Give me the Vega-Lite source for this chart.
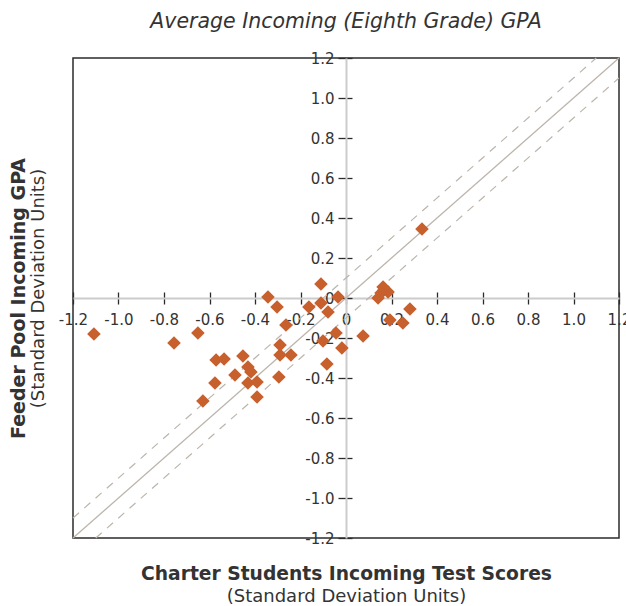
{
  "$schema": "https://vega.github.io/schema/vega-lite/v6.json",
  "width": 546,
  "height": 480,
  "autosize": "none",
  "padding": {"left": 73, "top": 58, "right": 7, "bottom": 68},
  "background": "white",
  "config": {
    "view": {"stroke": "#2b2b2b", "strokeWidth": 1.5},
    "font": "DejaVu Sans"
  },
  "title": {
    "text": "Average Incoming (Eighth Grade) GPA",
    "font": "DejaVu Sans",
    "fontSize": 20.5,
    "fontStyle": "italic",
    "fontWeight": "normal",
    "color": "#333333",
    "anchor": "middle",
    "frame": "group",
    "baseline": "alphabetic",
    "offset": 3
  },
  "datasets": {
    "ref": [
      {"x": -1.2, "y": -1.1, "series": "upper"},
      {"x": 1.1, "y": 1.2, "series": "upper"},
      {"x": -1.1, "y": -1.2, "series": "lower"},
      {"x": 1.2, "y": 1.1, "series": "lower"}
    ],
    "diag": [
      {"x": -1.2, "y": -1.2},
      {"x": 1.2, "y": 1.2}
    ],
    "pts": [
      {"test": -1.108, "gpa": -0.18},
      {"test": -0.756, "gpa": -0.225},
      {"test": -0.651, "gpa": -0.175},
      {"test": -0.629, "gpa": -0.515},
      {"test": -0.571, "gpa": -0.31},
      {"test": -0.536, "gpa": -0.305},
      {"test": -0.576, "gpa": -0.425},
      {"test": -0.488, "gpa": -0.385},
      {"test": -0.453, "gpa": -0.29},
      {"test": -0.431, "gpa": -0.345},
      {"test": -0.418, "gpa": -0.37},
      {"test": -0.431, "gpa": -0.425},
      {"test": -0.391, "gpa": -0.42},
      {"test": -0.391, "gpa": -0.495},
      {"test": -0.343, "gpa": 0.005},
      {"test": -0.303, "gpa": -0.045},
      {"test": -0.264, "gpa": -0.135},
      {"test": -0.29, "gpa": -0.235},
      {"test": -0.29, "gpa": -0.285},
      {"test": -0.242, "gpa": -0.285},
      {"test": -0.295, "gpa": -0.395},
      {"test": -0.163, "gpa": -0.045},
      {"test": -0.11, "gpa": 0.07},
      {"test": -0.11, "gpa": -0.025},
      {"test": -0.079, "gpa": -0.07},
      {"test": -0.035, "gpa": 0.005},
      {"test": -0.101, "gpa": -0.215},
      {"test": -0.044, "gpa": -0.175},
      {"test": -0.018, "gpa": -0.25},
      {"test": -0.084, "gpa": -0.33},
      {"test": 0.075, "gpa": -0.19},
      {"test": 0.141, "gpa": 0.0},
      {"test": 0.163, "gpa": 0.055},
      {"test": 0.185, "gpa": 0.03},
      {"test": 0.154, "gpa": 0.025},
      {"test": 0.193, "gpa": -0.11},
      {"test": 0.25, "gpa": -0.125},
      {"test": 0.281, "gpa": -0.055},
      {"test": 0.334, "gpa": 0.345}
    ]
  },
  "layer": [
    {
      "data": {"name": "ref"},
      "mark": {"type": "line", "color": "#bcb5ad", "strokeWidth": 1.2, "strokeDash": [8, 7]},
      "encoding": {
        "x": {"field": "x", "type": "quantitative", "scale": {"domain": [-1.2, 1.2], "nice": false, "zero": false}, "axis": null},
        "y": {"field": "y", "type": "quantitative", "scale": {"domain": [-1.2, 1.2], "nice": false, "zero": false}, "axis": null},
        "detail": {"field": "series"}
      }
    },
    {
      "data": {"name": "diag"},
      "mark": {"type": "line", "color": "#bcb5ad", "strokeWidth": 1.3},
      "encoding": {
        "x": {
          "field": "x", "type": "quantitative",
          "axis": {
            "orient": "top", "offset": -240, "values": [-1.2, -1.0, -0.8, -0.6, -0.4, -0.2, 0, 0.2, 0.4, 0.6, 0.8, 1.0, 1.2],
            "labels": false, "domain": false, "grid": false, "tickSize": 6, "tickColor": "#2b2b2b", "tickWidth": 1.3,
            "title": "(Standard Deviation Units)", "titleFont": "DejaVu Sans", "titleFontSize": 18, "titleFontWeight": "normal",
            "titleColor": "#333333", "titleY": 298, "titleBaseline": "middle", "titleAnchor": "middle", "zindex": 0
          }
        },
        "y": {
          "field": "y", "type": "quantitative",
          "axis": {
            "orient": "right", "offset": -273, "values": [-1.2, -1.0, -0.8, -0.6, -0.4, -0.2, 0, 0.2, 0.4, 0.6, 0.8, 1.0, 1.2],
            "labels": false, "domain": false, "grid": false, "tickSize": 6, "tickColor": "#2b2b2b", "tickWidth": 1.3,
            "title": "(Standard Deviation Units)", "titleFont": "DejaVu Sans", "titleFontSize": 18, "titleFontWeight": "normal",
            "titleColor": "#333333", "titleAngle": -90, "titleX": -308, "titleY": 230, "titleBaseline": "middle", "titleAnchor": "middle", "zindex": 0
          }
        }
      }
    },
    {
      "data": {"name": "pts"},
      "mark": {"type": "point", "shape": "diamond", "filled": true, "size": 185, "color": "#c8602e", "opacity": 1},
      "encoding": {
        "x": {
          "field": "test", "type": "quantitative",
          "axis": {
            "orient": "bottom", "offset": -240, "values": [-1.2, -1.0, -0.8, -0.6, -0.4, -0.2, 0, 0.2, 0.4, 0.6, 0.8, 1.0, 1.2],
            "labelExpr": "datum.value == 0 ? '0' : replace(format(datum.value, '.1f'), '−', '-')",
            "labelFont": "DejaVu Sans", "labelFontSize": 15, "labelColor": "#333333", "labelPadding": 8,
            "labelOverlap": false, "labelFlush": false, "labelBound": false,
            "domain": true, "domainColor": "#cccccc", "domainWidth": 2,
            "grid": false, "tickSize": 6, "tickColor": "#2b2b2b", "tickWidth": 1.3,
            "title": "Charter Students Incoming Test Scores", "titleFont": "DejaVu Sans", "titleFontSize": 18.7, "titleFontWeight": "bold",
            "titleColor": "#333333", "titleY": 275, "titleBaseline": "middle", "titleAnchor": "middle", "zindex": 0
          }
        },
        "y": {
          "field": "gpa", "type": "quantitative",
          "axis": {
            "orient": "left", "offset": -273, "values": [-1.2, -1.0, -0.8, -0.6, -0.4, -0.2, 0, 0.2, 0.4, 0.6, 0.8, 1.0, 1.2],
            "labelExpr": "datum.value == 0 ? '0' : replace(format(datum.value, '.1f'), '−', '-')",
            "labelFont": "DejaVu Sans", "labelFontSize": 15, "labelColor": "#333333", "labelPadding": 4,
            "labelOverlap": false, "labelFlush": false, "labelBound": false,
            "domain": true, "domainColor": "#cccccc", "domainWidth": 2,
            "grid": false, "tickSize": 8, "tickColor": "#2b2b2b", "tickWidth": 1.3,
            "title": "Feeder Pool Incoming GPA", "titleFont": "DejaVu Sans", "titleFontSize": 19, "titleFontWeight": "bold",
            "titleColor": "#333333", "titleAngle": -90, "titleX": -328, "titleY": 240, "titleBaseline": "middle", "titleAnchor": "middle", "zindex": 0
          }
        }
      }
    }
  ],
  "resolve": {"axis": {"x": "independent", "y": "independent"}}
}
